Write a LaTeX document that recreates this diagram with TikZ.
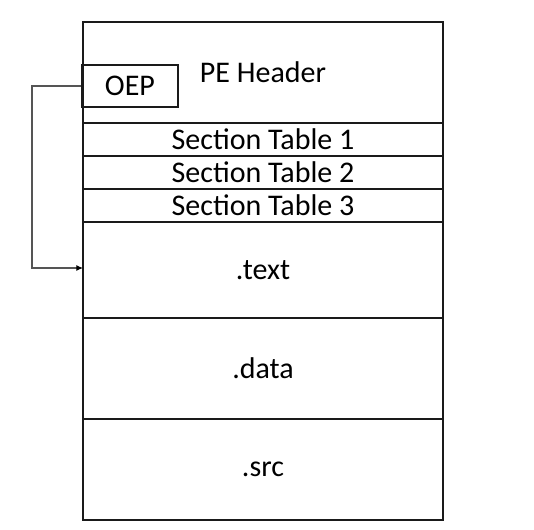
\documentclass[tikz,border=0pt]{standalone}
\usepackage{fontspec}
\setmainfont{Carlito}
\usetikzlibrary{positioning,arrows.meta}
\definecolor{boxline}{HTML}{1A1A1A}
\definecolor{linkgray}{HTML}{555555}

\begin{document}
\begin{tikzpicture}[x=0.75pt,y=-0.75pt,
  part/.style={rectangle, draw=boxline, line width=1.5pt, minimum width=270pt,
    inner sep=0pt, outer sep=0pt, font=\fontsize{22.5}{27}\selectfont},
  tab/.style={part, minimum height=24.75pt},
  oepbox/.style={rectangle, draw=boxline, line width=1.5pt, minimum width=72pt,
    minimum height=31.5pt, inner sep=0pt, font=\fontsize{22.5}{27}\selectfont},
  link/.style={-{Latex[length=5pt,width=4.5pt,color=black]}, line width=0.8pt, color=linkgray}
]
\useasboundingbox (0,0) rectangle (534,530);
\node[part,minimum height=75.75pt,anchor=north west] (hdr) at (83,22) {PE Header};
\node[tab,below=0pt of hdr] (st1) {Section Table 1};
\node[tab,below=0pt of st1] (st2) {Section Table 2};
\node[tab,below=0pt of st2] (st3) {Section Table 3};
\node[part,minimum height=72pt,below=0pt of st3] (text) {.text};
\node[part,minimum height=75.75pt,below=0pt of text] (data) {.data};
\node[part,minimum height=75.75pt,below=0pt of data] (src) {.src};
\node[oepbox] (oep) at (130,86) {OEP};
\coordinate[left=36.75pt of oep.west] (bend);
\draw[link] (oep.west) -- (bend) |- ([yshift=1.5pt]text.west);
\end{tikzpicture}
\end{document}
